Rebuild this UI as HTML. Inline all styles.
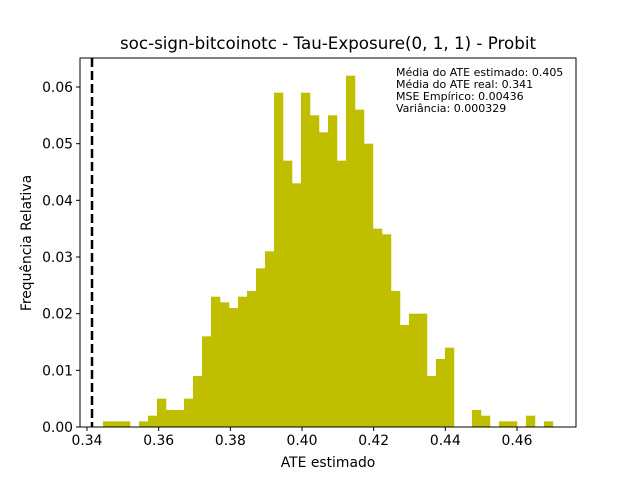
<!DOCTYPE html>
<html><head><meta charset="utf-8"><style>body{margin:0;background:#fff}svg{font-family:"DejaVu Sans","Liberation Sans",sans-serif}</style></head>
<body>
<svg width="640" height="480" xmlns="http://www.w3.org/2000/svg" id="chart">
<rect width="640" height="480" fill="#fff"/>
<text x="328" y="49" font-size="16.7" text-anchor="middle" fill="#000">soc-sign-bitcoinotc - Tau-Exposure(0, 1, 1) - Probit</text>
<g id="bars"></g>
<g id="axes"></g>
<text x="328" y="467" font-size="13.9" text-anchor="middle">ATE estimado</text>
<text transform="translate(31,243) rotate(-90)" font-size="13.9" text-anchor="middle">Frequência Relativa</text>
<g font-size="11" fill="#000">
<text x="396" y="76">Média do ATE estimado: 0.405</text>
<text x="396" y="88">Média do ATE real: 0.341</text>
<text x="396" y="100">MSE Empírico: 0.00436</text>
<text x="396" y="112">Variância: 0.000329</text>
</g>
</svg>
<script>
const binStart = 0.34447;
const binWidth = 0.002511;
const heights = [0.001,0.001,0.001,0,0.001,0.002,0.005,0.003,0.003,0.005,
0.009,0.016,0.023,0.022,0.021,0.023,0.024,0.028,0.031,0.059,
0.047,0.043,0.059,0.055,0.052,0.055,0.047,0.062,0.056,0.050,
0.035,0.034,0.024,0.018,0.020,0.020,0.009,0.012,0.014,0,
0,0.003,0.002,0,0.001,0.001,0,0.002,0,0.001];
const xTicks = [0.34,0.36,0.38,0.40,0.42,0.44,0.46];
const yTicks = [0,0.01,0.02,0.03,0.04,0.05,0.06];
const trueATE = 0.3414;
const L=80,R=576,T=58,B=427;
const xs = v => 87 + (v-0.34)*(430/0.12);
const ys = v => 427 - v*(340/0.06);
const NS="http://www.w3.org/2000/svg";
function mk(t,a,p){const e=document.createElementNS(NS,t);for(const k in a)e.setAttribute(k,a[k]);p.appendChild(e);return e;}
const bars=document.getElementById('bars');
heights.forEach((h,i)=>{if(h<=0)return;
 const x0=xs(binStart+i*binWidth),x1=xs(binStart+(i+1)*binWidth);
 const r=mk('rect',{x:x0,y:ys(h),width:x1-x0+0.3,height:ys(0)-ys(h),fill:'#bfbf00'},bars);
 
 
});
const ax=document.getElementById('axes');
const dl=mk('line',{x1:xs(trueATE),x2:xs(trueATE),y1:T,y2:B,stroke:'#000','stroke-width':2.5,'stroke-dasharray':'9,4'},ax);


const fr=mk('rect',{x:L,y:T,width:R-L,height:B-T,fill:'none',stroke:'#000','stroke-width':1},ax);


xTicks.forEach(v=>{const x=xs(v);
 mk('line',{x1:x,x2:x,y1:B,y2:B+4,stroke:'#000'},ax);
 const t=mk('text',{x:x,y:B+18,'font-size':13.9,'text-anchor':'middle'},ax);t.textContent=v.toFixed(2);
 
 
});
yTicks.forEach(v=>{const y=ys(v);
 mk('line',{x1:L-4,x2:L,y1:y,y2:y,stroke:'#000'},ax);
 const t=mk('text',{x:L-7,y:y+5,'font-size':13.9,'text-anchor':'end'},ax);t.textContent=v.toFixed(2);
 
 
});
</script>
</body></html>
